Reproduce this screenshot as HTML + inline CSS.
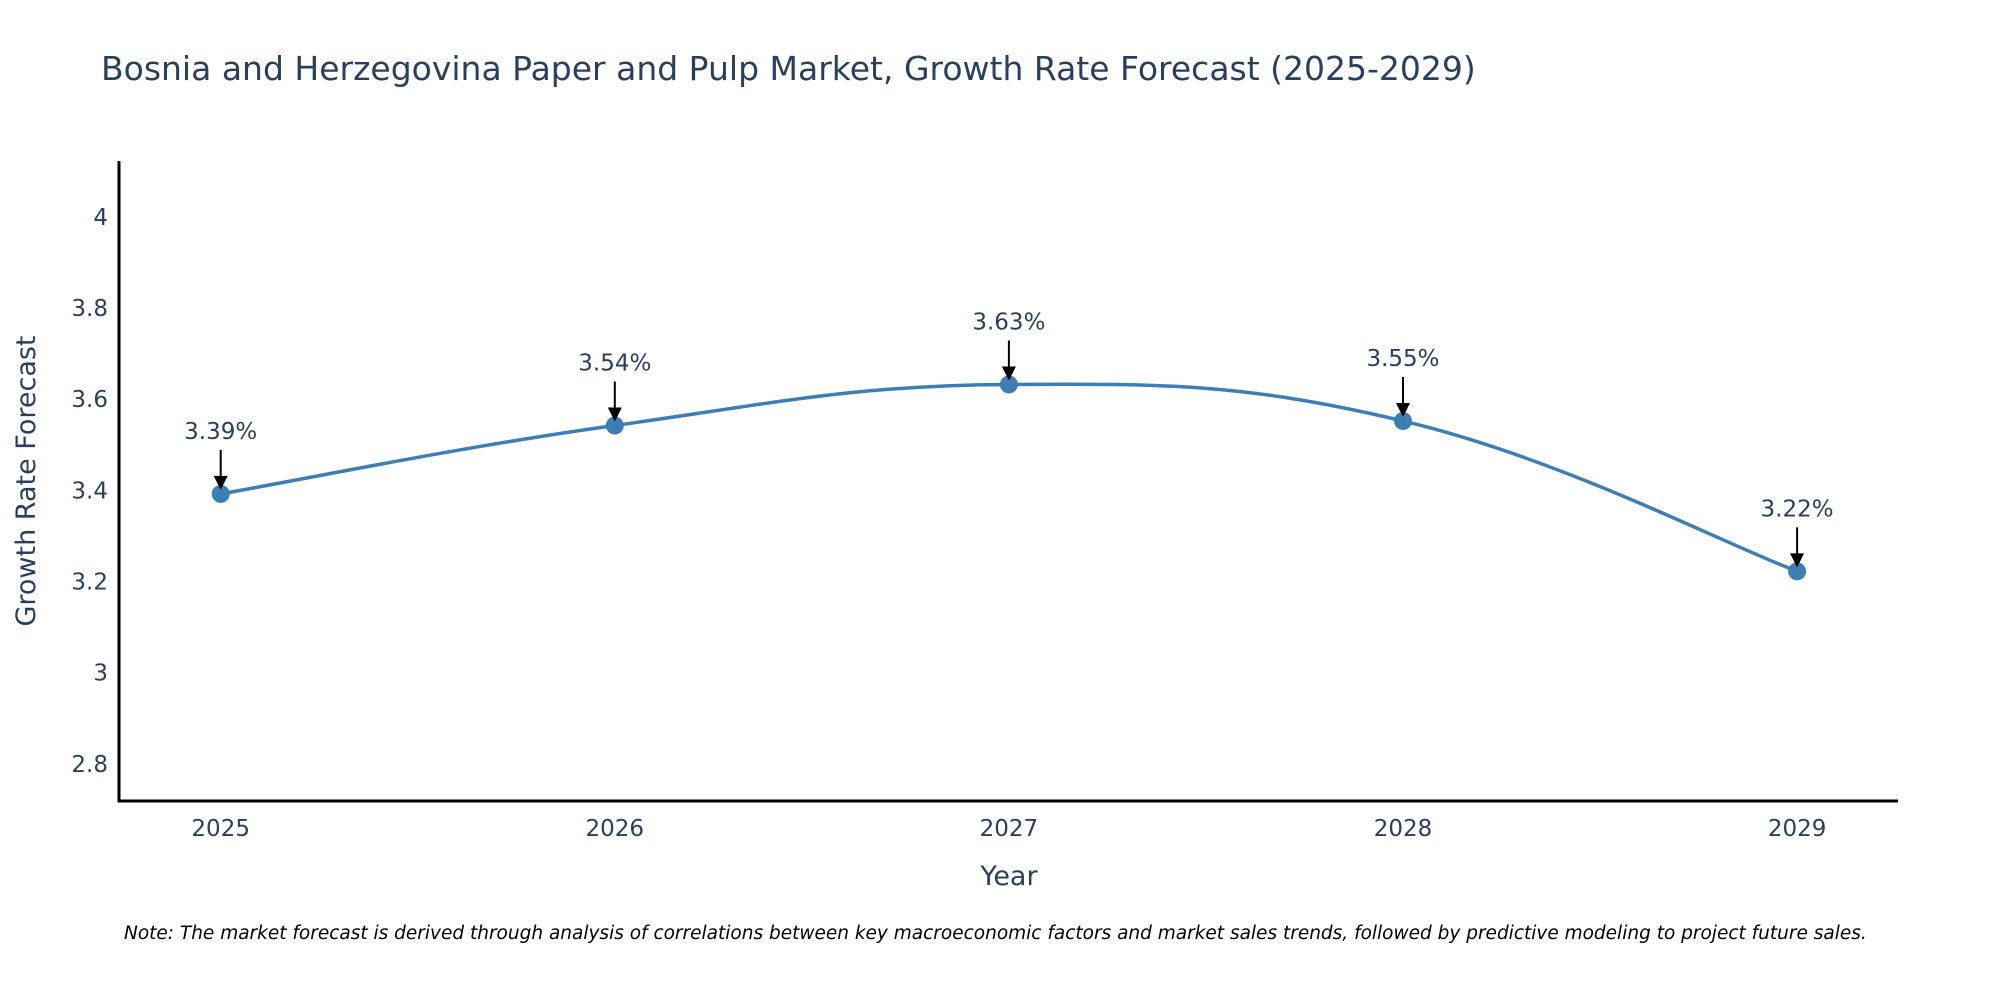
<!DOCTYPE html>
<html><head><meta charset="utf-8"><style>
body{margin:0;background:#fff;}
svg text{font-family:"DejaVu Sans","Liberation Sans",sans-serif;fill:#2a3f5f;}
</style></head><body>
<svg id="chart" width="2000" height="1000" viewBox="0 0 2000 1000" xmlns="http://www.w3.org/2000/svg">
<text x="101" y="80" font-size="33">Bosnia and Herzegovina Paper and Pulp Market, Growth Rate Forecast (2025-2029)</text>
<g id="yticks"></g>
<g id="xticks"></g>
<line x1="119" y1="161" x2="119" y2="802" stroke="#000" stroke-width="3"/>
<line x1="117.5" y1="801" x2="1898" y2="801" stroke="#000" stroke-width="3"/>
<text transform="translate(35,481) rotate(-90)" text-anchor="middle" font-size="27">Growth Rate Forecast</text>
<text x="1009" y="885" text-anchor="middle" font-size="27">Year</text>
<path id="line" fill="none" stroke="#3d7fb4" stroke-width="3.5"/>
<g id="marks"></g>
<text x="124" y="939" font-size="18.5" font-style="italic" style="fill:#000">Note: The market forecast is derived through analysis of correlations between key macroeconomic factors and market sales trends, followed by predictive modeling to project future sales.</text>
</svg>
<script>
const years = [2025, 2026, 2027, 2028, 2029];
const values = [3.39, 3.54, 3.63, 3.55, 3.22];
const labels = ["3.39%", "3.54%", "3.63%", "3.55%", "3.22%"];
const yTicks = [2.8, 3, 3.2, 3.4, 3.6, 3.8, 4];
const yTickLabels = ["2.8", "3", "3.2", "3.4", "3.6", "3.8", "4"];

const NS = "http://www.w3.org/2000/svg";
function xs(v){ return 220.7 + (v - 2025) * 394.1; }
function ys(v){ return 762.8 - (v - 2.8) * 455.8; }
function mk(tag, attrs, parent){
  const e = document.createElementNS(NS, tag);
  for (const k in attrs) e.setAttribute(k, attrs[k]);
  parent.appendChild(e); return e;
}
const yg = document.getElementById('yticks');
yTicks.forEach((t, i) => {
  const e = mk('text', {x: 108, y: ys(t) + 9, 'text-anchor': 'end', 'font-size': 23}, yg);
  
  
  e.textContent = yTickLabels[i];
});
const xg = document.getElementById('xticks');
years.forEach(y => {
  const e = mk('text', {x: xs(y), y: 836, 'text-anchor': 'middle', 'font-size': 23}, xg);
  
  
  e.textContent = String(y);
});
const pts = years.map((y, i) => [xs(y), ys(values[i])]);
let d = 'M' + pts[0][0] + ',' + pts[0][1];
const s = 0.2;
for (let i = 0; i < pts.length - 1; i++) {
  const p0 = pts[Math.max(0, i - 1)], p1 = pts[i], p2 = pts[i + 1], p3 = pts[Math.min(pts.length - 1, i + 2)];
  const c1 = [p1[0] + (p2[0] - p0[0]) * s, p1[1] + (p2[1] - p0[1]) * s];
  const c2 = [p2[0] - (p3[0] - p1[0]) * s, p2[1] - (p3[1] - p1[1]) * s];
  d += ' C' + c1.join(',') + ' ' + c2.join(',') + ' ' + p2.join(',');
}
document.getElementById('line').setAttribute('d', d);
const mg = document.getElementById('marks');
pts.forEach((p, i) => {
  const c = mk('circle', {cx: p[0], cy: p[1], r: 9, fill: '#3d7fb4'}, mg);
  
  
  const l = mk('line', {x1: p[0], y1: p[1] - 44, x2: p[0], y2: p[1] - 16, stroke: '#000', 'stroke-width': 2}, mg);
  
  
  const h = mk('polygon', {points: (p[0]-7)+','+(p[1]-18)+' '+(p[0]+7)+','+(p[1]-18)+' '+p[0]+','+(p[1]-4), fill: '#000'}, mg);
  
  
  const t = mk('text', {x: p[0], y: p[1] - 55, 'text-anchor': 'middle', 'font-size': 23}, mg);
  
  
  t.textContent = labels[i];
});
</script>
</body></html>
